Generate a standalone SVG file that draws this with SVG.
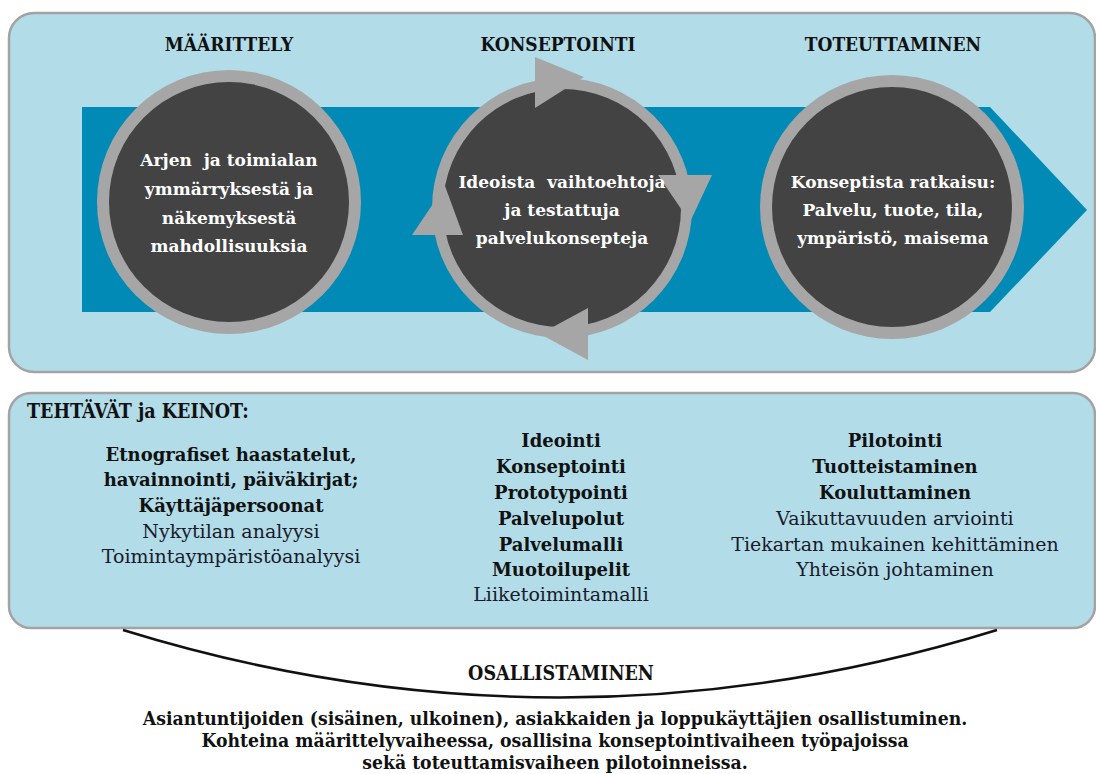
<svg xmlns="http://www.w3.org/2000/svg" width="1096" height="774" viewBox="0 0 1096 774">
<style>
.panel{fill:#b1dce8;stroke:#a3a3a3;stroke-width:2.5}
.ring{fill:#a6a6a6}
.core{fill:#434343}
.ttl{font-family:"DejaVu Serif Condensed","DejaVu Serif",serif;font-weight:bold;font-size:19px;fill:#111;text-anchor:middle}
.ctext{font-family:"DejaVu Serif","Liberation Serif",serif;font-weight:bold;font-size:17px;fill:#fff;text-anchor:middle}
.pre{white-space:pre}
.b{font-family:"DejaVu Serif","Liberation Serif",serif;font-weight:bold;font-size:18px;fill:#111;text-anchor:middle}
.r{font-family:"DejaVu Serif","Liberation Serif",serif;font-size:19px;fill:#1a1a2a;text-anchor:middle}
.foot{font-family:"DejaVu Serif Condensed","DejaVu Serif",serif;font-weight:bold;font-size:19.2px;fill:#111;text-anchor:middle}
</style>
<rect width="1096" height="774" fill="#ffffff"/>
<g id="top-panel">
<rect class="panel" x="9" y="13" width="1086" height="359" rx="25"/>
<polygon points="82,107 990,107 1087,210 990,312 82,312" fill="#008ab5"/>
</g>
<g id="maarittely">
<text class="ttl" x="229" y="51">MÄÄRITTELY</text>
<circle class="ring" cx="229" cy="202" r="132"/>
<circle class="core" cx="229" cy="202" r="120"/>
<text class="ctext pre" x="229" y="166" xml:space="preserve">Arjen  ja toimialan</text>
<text class="ctext" x="229" y="195">ymmärryksestä ja</text>
<text class="ctext" x="229" y="224">näkemyksestä</text>
<text class="ctext" x="229" y="252">mahdollisuuksia</text>
</g>
<g id="konseptointi">
<text class="ttl" x="558" y="51">KONSEPTOINTI</text>
<circle class="ring" cx="562" cy="208" r="130"/>
<circle class="core" cx="562" cy="208" r="119"/>
<polygon class="ring" points="535,57 535,108 584,77"/>
<polygon class="ring" points="658,175 712,175 690,222"/>
<polygon class="ring" points="588,308 588,360 540,334"/>
<polygon class="ring" points="412,235 463,235 445,186"/>
<text class="ctext pre" x="562" y="188" xml:space="preserve">Ideoista  vaihtoehtoja</text>
<text class="ctext" x="562" y="216">ja testattuja</text>
<text class="ctext" x="562" y="244">palvelukonsepteja</text>
</g>
<g id="toteuttaminen">
<text class="ttl" x="893" y="51">TOTEUTTAMINEN</text>
<circle class="ring" cx="892" cy="207" r="132"/>
<circle class="core" cx="892" cy="207" r="120"/>
<text class="ctext" x="893" y="188">Konseptista ratkaisu:</text>
<text class="ctext" x="893" y="216">Palvelu, tuote, tila,</text>
<text class="ctext" x="893" y="244">ympäristö, maisema</text>
</g>
<g id="tehtavat">
<rect class="panel" x="9" y="393" width="1086" height="235" rx="22"/>
<text class="ttl" x="27" y="418" style="text-anchor:start;font-size:19.5px">TEHTÄVÄT ja KEINOT:</text>
</g>
<g id="col1">
<text class="b" x="231" y="461">Etnografiset haastatelut,</text>
<text class="b" x="231" y="486">havainnointi, päiväkirjat;</text>
<text class="b" x="231" y="512">Käyttäjäpersoonat</text>
<text class="r" x="231" y="538">Nykytilan analyysi</text>
<text class="r" x="231" y="563">Toimintaympäristöanalyysi</text>
</g>
<g id="col2">
<text class="b" x="561" y="447">Ideointi</text>
<text class="b" x="561" y="473">Konseptointi</text>
<text class="b" x="561" y="499">Prototypointi</text>
<text class="b" x="561" y="525">Palvelupolut</text>
<text class="b" x="561" y="551">Palvelumalli</text>
<text class="b" x="561" y="576">Muotoilupelit</text>
<text class="r" x="561" y="601">Liiketoimintamalli</text>
</g>
<g id="col3">
<text class="b" x="895" y="447">Pilotointi</text>
<text class="b" x="895" y="473">Tuotteistaminen</text>
<text class="b" x="895" y="499">Kouluttaminen</text>
<text class="r" x="895" y="525">Vaikuttavuuden arviointi</text>
<text class="r" x="895" y="551">Tiekartan mukainen kehittäminen</text>
<text class="r" x="895" y="576">Yhteisön johtaminen</text>
</g>
<g id="connectors">
<path d="M123,630 Q560,765 997,630" fill="none" stroke="#111" stroke-width="2.5"/>
</g>
<g id="osallistaminen">
<text class="foot" x="561" y="680" style="font-size:19.5px">OSALLISTAMINEN</text>
<text class="foot" x="555" y="725">Asiantuntijoiden (sisäinen, ulkoinen), asiakkaiden ja loppukäyttäjien osallistuminen.</text>
<text class="foot" x="555" y="747">Kohteina määrittelyvaiheessa, osallisina konseptointivaiheen työpajoissa</text>
<text class="foot" x="555" y="769">sekä toteuttamisvaiheen pilotoinneissa.</text>
</g>
</svg>
